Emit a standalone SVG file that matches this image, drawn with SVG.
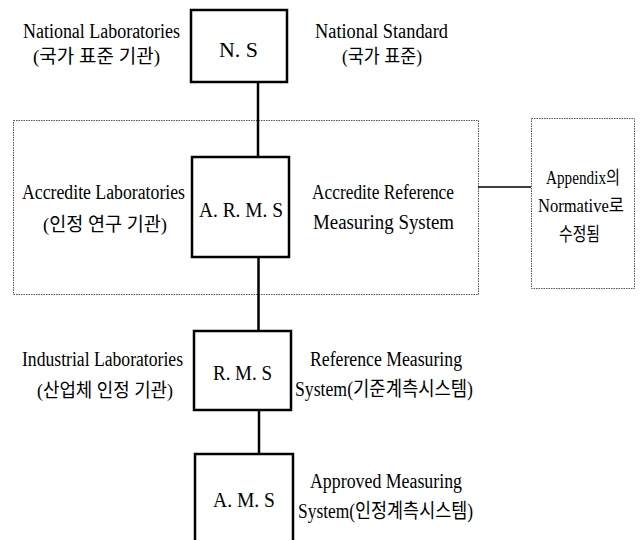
<svg xmlns="http://www.w3.org/2000/svg" width="641" height="540" viewBox="0 0 641 540">
<style>
  .box { fill: #fff; stroke: #000; stroke-width: 2.5; }
  .dot { fill: none; stroke: #555; stroke-width: 1; stroke-dasharray: 1.5 1; }
  .conn { stroke: #000; stroke-width: 2.5; fill: none; }
  .thin { stroke: #000; stroke-width: 1.5; fill: none; }
  text { font-family: "Liberation Serif", "Noto Sans CJK KR", serif; font-size: 20px; fill: #000; }
  .lbl { font-size: 20px; }
  .ko { font-size: 19px; }
  .ap { font-size: 18px; }
</style>
<rect width="641" height="540" fill="#fff"/>
<g id="groups">
  <rect class="dot" x="13.5" y="120.5" width="465" height="174"/>
</g>
<g id="connectors">
  <line class="conn" x1="258" y1="82" x2="258" y2="157"/>
  <line class="conn" x1="258.5" y1="257" x2="258.5" y2="331"/>
  <line class="conn" x1="259" y1="410" x2="259" y2="454"/>
  <line class="thin" x1="478" y1="187" x2="531" y2="187"/>
</g>
<g id="ns">
  <rect class="box" x="191" y="10" width="96" height="72"/>
  <text class="lbl" x="219" y="57" textLength="39" lengthAdjust="spacingAndGlyphs">N. S</text>
  <text x="23" y="38" textLength="157" lengthAdjust="spacingAndGlyphs">National Laboratories</text>
  <text class="ko" x="33" y="63" textLength="127" lengthAdjust="spacingAndGlyphs">(국가 표준 기관)</text>
  <text x="315" y="38" textLength="133" lengthAdjust="spacingAndGlyphs">National Standard</text>
  <text class="ko" x="342" y="63" textLength="80" lengthAdjust="spacingAndGlyphs">(국가 표준)</text>
</g>
<g id="arms">
  <rect class="box" x="192" y="157" width="97" height="100"/>
  <text class="lbl" x="199" y="217" textLength="84" lengthAdjust="spacingAndGlyphs">A. R. M. S</text>
  <text x="22" y="199" textLength="163" lengthAdjust="spacingAndGlyphs">Accredite Laboratories</text>
  <text class="ko" x="43" y="231" textLength="124" lengthAdjust="spacingAndGlyphs">(인정 연구 기관)</text>
  <text x="312" y="199" textLength="142" lengthAdjust="spacingAndGlyphs">Accredite Reference</text>
  <text x="313" y="229" textLength="141" lengthAdjust="spacingAndGlyphs">Measuring System</text>
</g>
<g id="appendix">
  <rect class="dot" x="531.5" y="118.5" width="103" height="170"/>
  <text class="ap" x="546" y="184" textLength="74" lengthAdjust="spacingAndGlyphs">Appendix의</text>
  <text class="ap" x="538" y="212" textLength="86" lengthAdjust="spacingAndGlyphs">Normative로</text>
  <text class="ko" x="559" y="241" textLength="41" lengthAdjust="spacingAndGlyphs">수정됨</text>
</g>
<g id="rms">
  <rect class="box" x="194" y="331" width="97" height="79"/>
  <text class="lbl" x="213" y="380" textLength="59" lengthAdjust="spacingAndGlyphs">R. M. S</text>
  <text x="22" y="366" textLength="161" lengthAdjust="spacingAndGlyphs">Industrial Laboratories</text>
  <text class="ko" x="37" y="397" textLength="136" lengthAdjust="spacingAndGlyphs">(산업체 인정 기관)</text>
  <text x="310" y="366" textLength="152" lengthAdjust="spacingAndGlyphs">Reference Measuring</text>
  <text x="295" y="396" textLength="178" lengthAdjust="spacingAndGlyphs">System(기준계측시스템)</text>
</g>
<g id="ams">
  <rect class="box" x="195" y="454" width="98" height="110"/>
  <text class="lbl" x="213" y="507" textLength="62" lengthAdjust="spacingAndGlyphs">A. M. S</text>
  <text x="310" y="488" textLength="152" lengthAdjust="spacingAndGlyphs">Approved Measuring</text>
  <text x="298" y="518" textLength="175" lengthAdjust="spacingAndGlyphs">System(인정계측시스템)</text>
</g>
</svg>
